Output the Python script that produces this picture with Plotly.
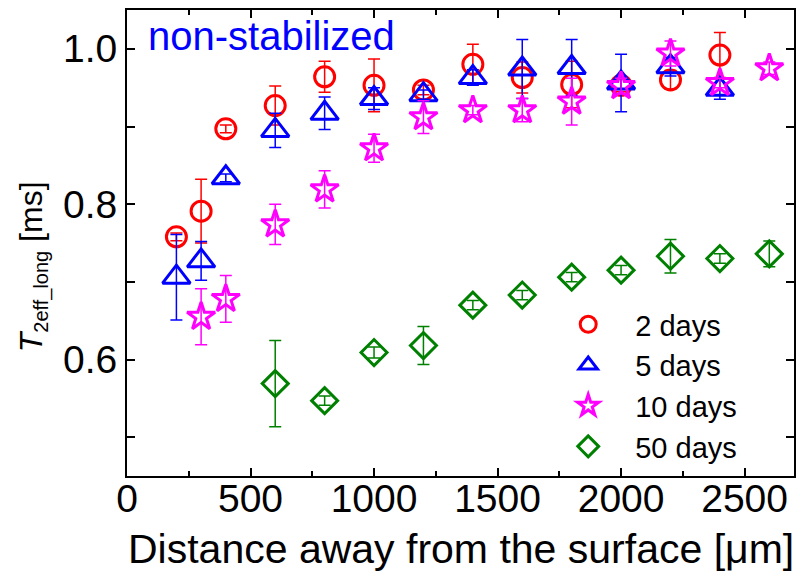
import plotly.graph_objects as go

# ---- data ----
x_2d = [200, 300, 400, 600, 800, 1000, 1200, 1400, 1600, 1800, 2000, 2200, 2400]
y_2d = [0.758, 0.791, 0.897, 0.927, 0.964, 0.953, 0.947, 0.980, 0.963, 0.954, 0.953, 0.960, 0.992]
e_2d = [0.005, 0.041, 0.005, 0.025, 0.020, 0.034, 0.006, 0.026, 0.020, 0.030, 0.008, 0.012, 0.029]

x_5d = [200, 300, 400, 600, 800, 1000, 1200, 1400, 1600, 1800, 2000, 2200, 2400]
y_5d = [0.706, 0.727, 0.834, 0.895, 0.917, 0.936, 0.941, 0.963, 0.974, 0.976, 0.956, 0.977, 0.948]
e_5d = [0.055, 0.025, 0.005, 0.022, 0.021, 0.014, 0.006, 0.010, 0.038, 0.036, 0.037, 0.012, 0.013]

x_10d = [300, 400, 600, 800, 1000, 1200, 1400, 1600, 1800, 2000, 2200, 2400, 2600]
y_10d = [0.655, 0.678, 0.774, 0.819, 0.872, 0.912, 0.921, 0.921, 0.932, 0.952, 0.994, 0.956, 0.975]
e_10d = [0.036, 0.030, 0.026, 0.024, 0.018, 0.021, 0.006, 0.015, 0.030, 0.010, 0.016, 0.006, 0.008]

x_50d = [600, 800, 1000, 1200, 1400, 1600, 1800, 2000, 2200, 2400, 2600]
y_50d = [0.569, 0.547, 0.609, 0.618, 0.670, 0.683, 0.706, 0.715, 0.733, 0.730, 0.736]
e_50d = [0.0555, 0.006, 0.007, 0.0245, 0.006, 0.006, 0.006, 0.006, 0.0215, 0.006, 0.0165]

series_names = ["2 days", "5 days", "10 days", "50 days"]
x_ticks = [0, 500, 1000, 1500, 2000, 2500]
y_ticks = [0.6, 0.8, 1.0]

FONT = "Liberation Sans, Arial, sans-serif"

styles = [
    dict(color="#FF0000", symbol="circle-open", size=20),
    dict(color="#0000FF", symbol="triangle-up-open", size=24),
    dict(color="#FF00FF", symbol="star-open", size=21),
    dict(color="#008000", symbol="diamond-open", size=20),
]
datasets = [(x_2d, y_2d, e_2d), (x_5d, y_5d, e_5d), (x_10d, y_10d, e_10d), (x_50d, y_50d, e_50d)]

fig = go.Figure()
for name, (xs, ys, es), st in zip(series_names, datasets, styles):
    fig.add_trace(go.Scatter(
        x=xs, y=ys, name=name, mode="markers",
        marker=dict(symbol=st["symbol"], size=st["size"], color=st["color"],
                    line=dict(width=3, color=st["color"])),
        error_y=dict(type="data", array=es, visible=True, color=st["color"],
                     thickness=1.5, width=6),
    ))

axis_common = dict(
    showline=True, linecolor="black", linewidth=2, mirror="allticks",
    ticks="inside", ticklen=8, tickwidth=1.5, tickcolor="black",
    showgrid=False, zeroline=False, automargin=False,
    tickfont=dict(family=FONT, size=39, color="black"),
)

fig.update_xaxes(
    range=[0, 2700], tickvals=x_ticks, ticklabelstandoff=-13,
    minor=dict(dtick=250, tick0=0, ticks="inside", ticklen=5, tickwidth=1.5, tickcolor="black"),
    **axis_common,
)
fig.update_yaxes(
    range=[0.45, 1.05], tickvals=y_ticks, ticktext=["0.6", "0.8", "1.0"],
    minor=dict(dtick=0.1, tick0=0.5, ticks="inside", ticklen=8, tickwidth=1.5, tickcolor="black"),
    **axis_common,
)

fig.add_annotation(
    text="Distance away from the surface [μm]",
    xref="paper", yref="paper", x=0.5, y=-0.157,
    xanchor="center", yanchor="middle", showarrow=False,
    font=dict(family=FONT, size=41, color="black"),
)
fig.add_annotation(
    text="<i>T</i><sub><span style='font-size:20px'>2eff_long</span></sub> [ms]", textangle=-90,
    xref="paper", yref="paper", x=-0.141, y=0.450,
    xanchor="center", yanchor="middle", showarrow=False,
    font=dict(family=FONT, size=32, color="black"),
)
fig.add_annotation(
    text="non-stabilized", xref="paper", yref="paper",
    x=0.028, y=0.995, xanchor="left", yanchor="top", showarrow=False,
    font=dict(family=FONT, size=40, color="#0000FF"),
)

fig.update_layout(
    width=796, height=573,
    margin=dict(l=127, r=2, t=10, b=97, autoexpand=False),
    paper_bgcolor="white", plot_bgcolor="white",
    showlegend=True,
    legend=dict(x=0.621, y=0.38, xanchor="left", yanchor="top",
                bgcolor="rgba(0,0,0,0)", borderwidth=0,
                font=dict(family=FONT, size=29, color="black"),
                itemwidth=84, tracegroupgap=0),
)

fig.write_html("out.html", config={"displayModeBar": False},
               post_script="document.body.style.margin='0';")
